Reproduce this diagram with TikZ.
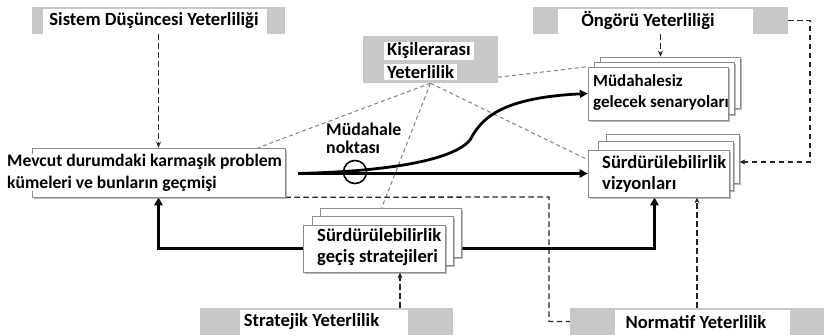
\documentclass[tikz,border=0pt]{standalone}
\usepackage{fontspec}
\setmainfont{Carlito}
\usetikzlibrary{arrows.meta,shadows,calc}
\pgfdeclarelayer{links}
\pgfsetlayers{links,main}
\definecolor{compgray}{RGB}{200,200,200}
\tikzset{
  every node/.style={font=\bfseries\fontsize{18.6}{21}\selectfont},
  graybox/.style={fill=compgray, inner sep=0pt, minimum height=27pt},
  whitebox/.style={fill=white, inner sep=0pt, minimum height=25pt},
  lbl/.style={inner sep=0pt, anchor=west, align=left},
  sheet/.style={fill=white, draw=black!45, line width=0.6pt, inner sep=0pt,
    drop shadow={shadow xshift=1.5pt, shadow yshift=-2pt, opacity=0.55}},
  compline/.style={black!85, line width=1.3pt, dash pattern=on 5.5pt off 3.5pt},
  relline/.style={black!50, line width=1pt, dash pattern=on 4pt off 3pt},
  flow/.style={line width=2.7pt, -{Triangle[length=8pt,width=8pt]}},
  dtip/.style={-{Stealth[length=6pt,width=5pt]}},
}
\begin{document}
\begin{tikzpicture}[x=1pt,y=-1pt]
\useasboundingbox (0,0) rectangle (824,335);

% competence labels (gray bands with white text fields)
\node[graybox, minimum width=253pt] (sysg) at (158.5,20.5) {};
\node[whitebox, minimum width=224pt] (sysw) at (155,21) {};
\node (syst) at (154,21) {Sistem Düşüncesi Yeterliliği};

\node[graybox, minimum width=255pt] (fores) at (660.5,20.5) {};
\node[whitebox, minimum width=195pt] (forew) at (655.5,21) {};
\node (foret) at (648,21) {Öngörü Yeterliliği};

\node[graybox, minimum width=135pt, minimum height=47pt] (intg) at (430.5,59.5) {};
\node[lbl, fill=white, inner xsep=3pt, inner ysep=1pt] (int1) at (384,51) {Kişilerarası};
\node[lbl, fill=white, inner xsep=3pt, inner ysep=1pt] (int2) at (384,72) {Yeterlilik};

\node[graybox, minimum width=253pt] (strg) at (326.5,321.5) {};
\node[whitebox, minimum width=168pt] (strw) at (324,322.5) {};
\node (strt) at (311.5,322) {Stratejik Yeterlilik};

\node[graybox, minimum width=254pt] (normg) at (697,321.5) {};
\node[whitebox, minimum width=175pt] (normw) at (702.5,322.5) {};
\node (normt) at (696,322) {Normatif Yeterlilik};

% current state
\node[sheet, minimum width=253pt, minimum height=49pt] (prob) at (158.5,172.5) {};
\node[lbl, fill=white, inner xsep=2pt, inner ysep=0pt,
      font=\bfseries\fontsize{17.6}{22}\selectfont] (probt) at (5,172.5)
  {Mevcut durumdaki karmaşık problem\\kümeleri ve bunların geçmişi};

% future scenarios without intervention
\node[sheet, minimum width=140pt, minimum height=51pt] (mudb1) at (670,82.5) {};
\node[sheet, minimum width=140pt, minimum height=52pt] (mudb2) at (664,88) {};
\node[sheet, minimum width=140pt, minimum height=53pt] (mudf) at (658,93.5) {};
\node[lbl, font=\bfseries\fontsize{17}{21}\selectfont] (mudt) at (593,92.5)
  {Müdahalesiz\\gelecek senaryoları};

% sustainability visions
\node[sheet, minimum width=133pt, minimum height=49pt] (vizb1) at (672.5,158.5) {};
\node[sheet, minimum width=135pt, minimum height=49pt] (vizb2) at (665.5,165.5) {};
\node[sheet, minimum width=141pt, minimum height=47pt] (vizf) at (658.5,173.5) {};
\node[lbl] (vizt) at (602,173.5) {Sürdürülebilirlik\\vizyonları};

% transition strategies
\node[sheet, minimum width=141pt, minimum height=49pt] (gb1) at (390.5,232.5) {};
\node[sheet, minimum width=141pt, minimum height=49pt] (gb2) at (382.5,240.5) {};
\node[sheet, minimum width=142pt, minimum height=47pt] (gf) at (374,248.5) {};
\node[lbl] (gt) at (317,247) {Sürdürülebilirlik\\geçiş stratejileri};

% intervention point
\node[circle, draw, line width=1.6pt, minimum size=23pt, inner sep=0pt] (ip) at (355,172) {};
\node[lbl, font=\bfseries\fontsize{17.8}{18}\selectfont] (ipt) at (326,138) {Müdahale\\noktası};

\coordinate (ls) at (298,173.5);
\coordinate (rc) at (810,162);
\coordinate (sc) at (400,0);
\coordinate (nc) at (549,197);

\begin{pgfonlayer}{links}
  % interpersonal competence relations
  \draw[relline] (intg.south) -- ($(prob.north east)+(-27,0)$);
  \draw[relline] (intg.south) -- ($(gb1.north west)+(62,0)$);
  \draw[relline] (intg.south) -- ($(vizf.north west)+(0,10)$);
  \draw[relline] ($(intg.south east)+(0,-6)$) -- (mudf.north west);

  % competence links
  \draw[compline, dtip] (sysg.south) -- (prob.north);
  \draw[compline, dtip] (fores.south) -- (fores.south |- mudb1.north);
  \draw[compline, dtip] (fores.east) -| (rc) -- (rc -| vizb1.east);
  \draw[compline, dtip] (normg.north) -- (normg.north |- vizf.south);
  \draw[compline, dtip] (strg.north -| sc) -- (gf.south -| sc);
  \draw[compline] (prob.south east) -- (nc) |- (normg.west);

  % main flows
  \draw[flow] (ls) -- (vizf.west);
  \draw[line width=2.8pt, -{Triangle[length=8pt,width=8pt]}]
    (ls) .. controls (400,171) and (455,158) .. (470,140)
         .. controls (480,122) and (495,98) .. (mudf.west);
  \draw[flow] (gf.west) -| (prob.south);
  \draw[flow] (gf.east) -| ($(vizf.south)+(-4,0)$);
\end{pgfonlayer}
\end{tikzpicture}
\end{document}
